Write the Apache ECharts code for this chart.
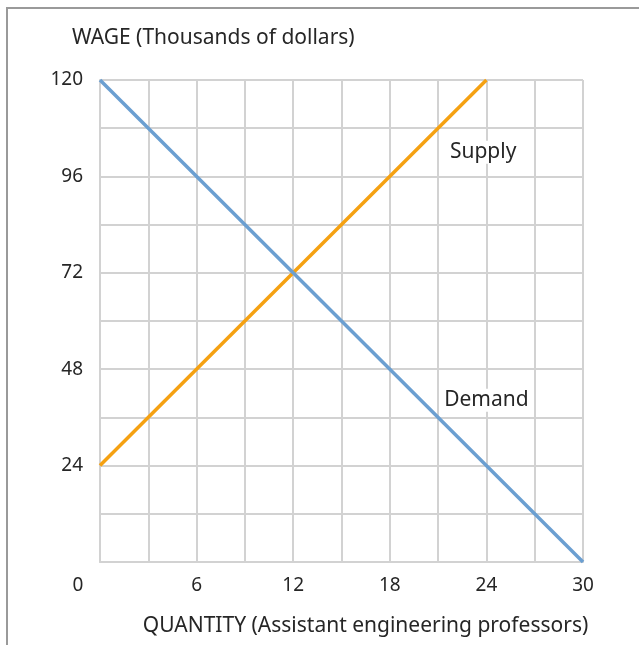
<!DOCTYPE html>
<html>
<head>
<meta charset="utf-8">
<script src="https://cdn.jsdelivr.net/npm/echarts@6/dist/echarts.min.js"></script>
<style>html,body{margin:0;padding:0;background:#fff;}#c{width:639px;height:645px;}</style>
</head>
<body>
<div id="c"></div>
<script>
const supplyData = [[0, 24], [24, 120]];
const demandData = [[0, 120], [30, 0]];
const xTicks = [0, 6, 12, 18, 24, 30];
const yTicks = [0, 24, 48, 72, 96, 120];
const supplyLabel = {name: 'Supply', coord: [23.8, 102]};
const demandLabel = {name: 'Demand', coord: [24.0, 40.3]};

const FONT = "'Noto Sans', 'DejaVu Sans', sans-serif";
const TXT = '#262626';
const chart = echarts.init(document.getElementById('c'));
chart.setOption({
  animation: false,
  backgroundColor: '#fff',
  textStyle: {fontFamily: FONT},
  title: {
    text: 'WAGE (Thousands of dollars)',
    left: 67, top: 23,
    textStyle: {fontFamily: FONT, fontSize: 21, fontWeight: 'normal', color: TXT}
  },
  graphic: [{
    type: 'rect', shape: {x: 7, y: 8, width: 700, height: 700},
    style: {fill: 'none', stroke: '#9a9a9a', lineWidth: 2}, silent: true, z: -1
  }],
  grid: {left: 100, top: 80, width: 483, height: 482},
  xAxis: {
    type: 'value', min: 0, max: 30, interval: 3,
    name: 'QUANTITY (Assistant engineering professors)',
    nameLocation: 'middle', nameGap: 54,
    nameTextStyle: {fontFamily: FONT, fontSize: 21, color: TXT, padding: [0, 0, 0, 48]},
    axisLine: {show: true, lineStyle: {color: '#d2d2d2', width: 2}},
    axisTick: {show: false},
    splitLine: {show: true, lineStyle: {color: '#d2d2d2', width: 2}},
    axisLabel: {
      margin: 14, fontSize: 19, color: TXT, fontFamily: FONT,
      formatter: v => xTicks.includes(v) ? (v === 0 ? '{z|0}' : String(v)) : '',
      rich: {z: {fontSize: 19, color: TXT, fontFamily: FONT, padding: [0, 44, 0, 0]}}
    }
  },
  yAxis: {
    type: 'value', min: 0, max: 120, interval: 12,
    axisLine: {show: true, lineStyle: {color: '#d2d2d2', width: 2}},
    axisTick: {show: false},
    splitLine: {show: true, lineStyle: {color: '#d2d2d2', width: 2}},
    axisLabel: {
      margin: 17, fontSize: 19, color: TXT, fontFamily: FONT,
      formatter: v => (yTicks.includes(v) && v !== 0) ? String(v) : ''
    }
  },
  series: [
    {
      name: 'Demand', type: 'line', data: demandData, symbol: 'none',
      lineStyle: {color: '#6b9fd1', width: 3.5}, z: 3,
      markPoint: {
        symbol: 'circle', symbolSize: 0,
        label: {show: true, formatter: '{b}', fontSize: 21, color: TXT, fontFamily: FONT,
          backgroundColor: '#fff', padding: [1, 2]},
        data: [demandLabel]
      }
    },
    {
      name: 'Supply', type: 'line', data: supplyData, symbol: 'none',
      lineStyle: {color: '#f5a112', width: 3.5}, z: 2,
      markPoint: {
        symbol: 'circle', symbolSize: 0,
        label: {show: true, formatter: '{b}', fontSize: 21, color: TXT, fontFamily: FONT,
          backgroundColor: '#fff', padding: [1, 2]},
        data: [supplyLabel]
      }
    }
  ]
});
</script>
</body>
</html>
